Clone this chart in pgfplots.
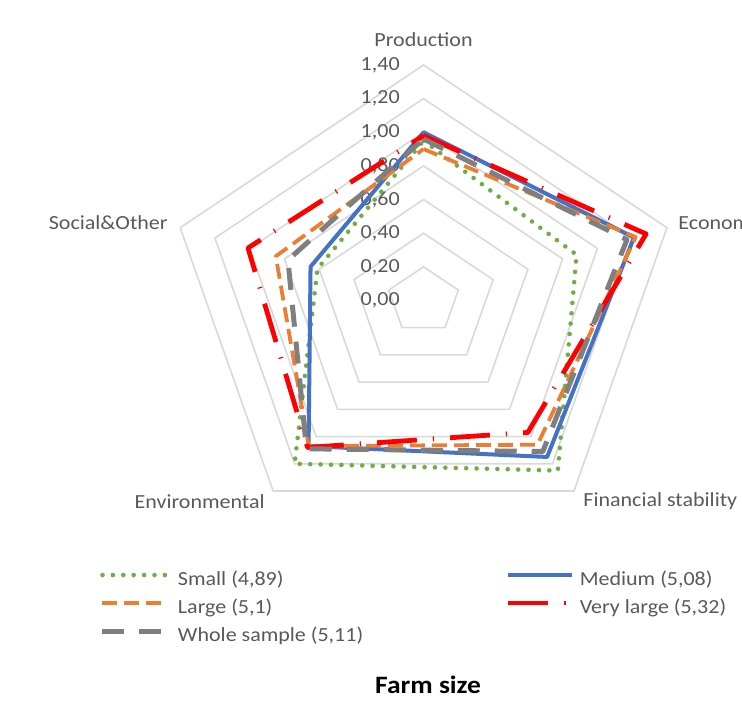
\documentclass[border=0pt]{standalone}
\usepackage{fontspec}
\setmainfont{Carlito}[FakeStretch=1.1]
\usepackage{pgfplots}
\pgfplotsset{compat=1.18}

\definecolor{cgreen}{HTML}{70AD47}
\definecolor{cblue}{HTML}{4472C4}
\definecolor{corange}{HTML}{ED7D31}
\definecolor{cred}{HTML}{FF0000}
\definecolor{cgray}{HTML}{7F7F7F}
\definecolor{ring}{HTML}{D9D9D9}
\definecolor{txt}{HTML}{595959}

% radar rings at 0.2, 0.4, ..., 1.4
\pgfplotsset{
  ringline/.style={ring, line width=0.8pt, line join=miter, forget plot, data cs=polar},
  radarline/.style={data cs=polar, line join=round},
}

\begin{document}
\begin{tikzpicture}
\useasboundingbox (0,0) rectangle (371pt,352.5pt);
\clip (0,0) rectangle (371pt,352.5pt);
\begin{axis}[
  at={(0,0)}, anchor=south west,
  x=91.4pt, y=84.1pt,
  xmin=-2.317, xmax=1.742, ymin=-2.405, ymax=1.787,
  hide axis, clip=false,
  font=\fontsize{10pt}{12pt}\selectfont,
  legend columns=2,
  legend cell align=left,
  legend image code/.code={\draw[#1] (0pt,3.2pt) -- (32pt,3.2pt);},
  legend style={
    at={(axis cs:-1.770,-1.614)}, anchor=north west,
    draw=none, fill=none, inner sep=0pt, outer sep=0pt,
    text=txt, row sep=4.5pt,
    nodes={inner sep=0pt, text height=7pt, text depth=2.5pt},
    /tikz/column 1/.style={column sep=4.5pt},
    /tikz/column 2/.style={column sep=3pt},
    /tikz/column 3/.style={column sep=2.5pt},
  },
]
% grid rings
\addplot[ringline] coordinates {(90,0.2) (18,0.2) (-54,0.2) (-126,0.2) (162,0.2)} -- cycle;
\addplot[ringline] coordinates {(90,0.4) (18,0.4) (-54,0.4) (-126,0.4) (162,0.4)} -- cycle;
\addplot[ringline] coordinates {(90,0.6) (18,0.6) (-54,0.6) (-126,0.6) (162,0.6)} -- cycle;
\addplot[ringline] coordinates {(90,0.8) (18,0.8) (-54,0.8) (-126,0.8) (162,0.8)} -- cycle;
\addplot[ringline] coordinates {(90,1.0) (18,1.0) (-54,1.0) (-126,1.0) (162,1.0)} -- cycle;
\addplot[ringline] coordinates {(90,1.2) (18,1.2) (-54,1.2) (-126,1.2) (162,1.2)} -- cycle;
\addplot[ringline] coordinates {(90,1.4) (18,1.4) (-54,1.4) (-126,1.4) (162,1.4)} -- cycle;

% radial scale labels
\begin{scope}[every node/.style={anchor=east, inner sep=0pt, text=txt}]
\node at (axis cs:-0.1286,0.0) {0,00};
\node at (axis cs:-0.1286,0.2) {0,20};
\node at (axis cs:-0.1286,0.4) {0,40};
\node at (axis cs:-0.1286,0.6) {0,60};
\node at (axis cs:-0.1286,0.8) {0,80};
\node at (axis cs:-0.1286,1.0) {1,00};
\node at (axis cs:-0.1286,1.2) {1,20};
\node at (axis cs:-0.1286,1.4) {1,40};
\end{scope}

% category labels
\begin{scope}[every node/.style={inner sep=0pt, text=txt}]
\node[anchor=base] at (axis cs:0,1.509) {Production};
\node[anchor=base west] at (axis cs:1.392,0.419) {Economic};
\node[anchor=base west] at (axis cs:0.8725,-1.222) {Financial stability};
\node[anchor=base east] at (axis cs:-0.867,-1.234) {Environmental};
\node[anchor=base east] at (axis cs:-1.398,0.419) {Social\&Other};
\end{scope}

% series: Production, Economic, Financial stability, Environmental, Social&Other
\addplot[radarline, cgreen, line width=2.3pt, line cap=round, dash pattern=on 0pt off 5.2pt]
  coordinates {(90,0.95) (18,0.88) (-54,1.25) (-126,1.20) (162,0.61)} -- cycle;
\addlegendentry{\makebox[161pt][l]{Small (4,89)}}
\addplot[radarline, cblue, line width=2pt]
  coordinates {(90,1.00) (18,1.21) (-54,1.15) (-126,1.07) (162,0.65)} -- cycle;
\addlegendentry{Medium (5,08)}
\addplot[radarline, corange, line width=1.9pt, dash pattern=on 7.5pt off 3.5pt]
  coordinates {(90,0.90) (18,1.22) (-54,1.06) (-126,1.07) (162,0.85)} -- cycle;
\addlegendentry{\makebox[161pt][l]{Large (5,1)}}
\addplot[radarline, cred, line width=2.4pt, dash pattern=on 20pt off 8pt on 0.6pt off 8pt]
  coordinates {(90,0.98) (18,1.28) (-54,0.97) (-126,1.08) (162,1.01)} -- cycle;
\addlegendentry{Very large (5,32)}
\addplot[radarline, cgray, line width=2.5pt, dash pattern=on 11pt off 7.5pt]
  coordinates {(90,0.96) (18,1.17) (-54,1.11) (-126,1.09) (162,0.78)} -- cycle;
\addlegendentry{\makebox[161pt][l]{Whole sample (5,11)}}

\node[anchor=base, inner sep=0pt, font=\fontsize{12.5pt}{15pt}\selectfont\bfseries]
  at (axis cs:0.025,-2.334) {Farm size};
\end{axis}
\end{tikzpicture}
\end{document}
